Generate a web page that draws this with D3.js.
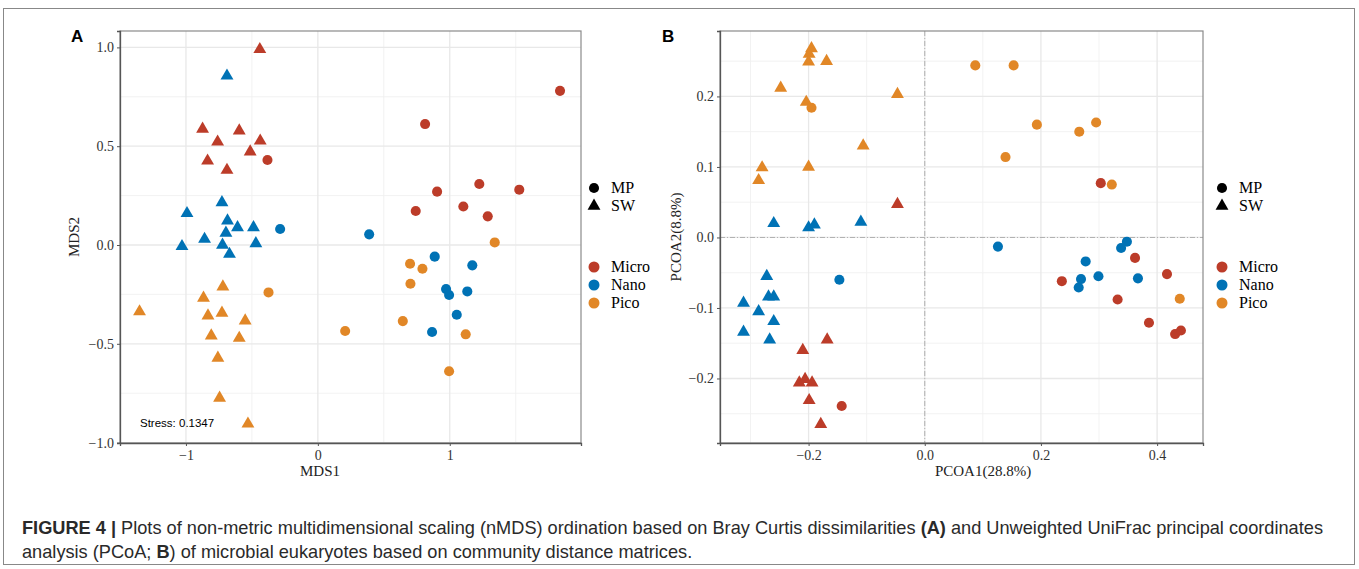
<!DOCTYPE html>
<html lang="en">
<head>
<meta charset="UTF-8" />
<title>Figure 4</title>
<style>
  body { margin: 0; background: #fff; }
  text { font-family: "Liberation Serif", "DejaVu Serif", serif; }
  .sans { font-family: "Liberation Sans", Arial, sans-serif; }
</style>
</head>
<body>
<svg width="1359" height="569" id="svg"></svg>
<script src="https://cdn.jsdelivr.net/npm/d3@7"></script>
<script>
// ---- data: panel A (nMDS, Bray Curtis) ----
const nmdsMicroSW = [[-0.44,0.99],[-0.874,0.587],[-0.596,0.578],[-0.437,0.527],[-0.76,0.522],[-0.513,0.472],[-0.836,0.426],[-0.689,0.379]]
const nmdsMicroMP = [[-0.382,0.43],[1.836,0.78],[0.813,0.612],[1.224,0.309],[1.527,0.28],[0.904,0.27],[0.742,0.172],[1.103,0.195],[1.288,0.145]]
const nmdsNanoSW = [[-0.689,0.856],[-0.727,0.215],[-0.992,0.16],[-0.685,0.123],[-0.609,0.089],[-0.488,0.089],[-0.697,0.061],[-0.859,0.03],[-1.03,-0.007],[-0.723,0.0],[-0.47,0.008],[-0.67,-0.046]]
const nmdsNanoMP = [[-0.286,0.081],[0.389,0.054],[0.886,-0.059],[1.171,-0.103],[0.972,-0.223],[0.995,-0.253],[1.133,-0.235],[1.053,-0.353],[0.866,-0.44]]
const nmdsPicoSW = [[-0.72,-0.211],[-0.867,-0.268],[-1.352,-0.337],[-0.833,-0.358],[-0.727,-0.344],[-0.551,-0.383],[-0.808,-0.459],[-0.596,-0.471],[-0.758,-0.572],[-0.745,-0.774],[-0.53,-0.905]]
const nmdsPicoMP = [[-0.374,-0.24],[0.207,-0.435],[1.341,0.013],[0.699,-0.095],[0.793,-0.12],[0.702,-0.196],[0.644,-0.385],[1.121,-0.452],[0.995,-0.639]]

// ---- data: panel B (PCoA, Unweighted UniFrac) ----
const pcoaMicroSW = [[-0.047,0.047],[-0.168,-0.145],[-0.21,-0.16],[-0.216,-0.206],[-0.206,-0.201],[-0.194,-0.206],[-0.199,-0.231],[-0.179,-0.265]]
const pcoaMicroMP = [[0.303,0.077],[0.362,-0.029],[0.417,-0.052],[0.236,-0.062],[0.332,-0.088],[0.386,-0.121],[0.431,-0.137],[0.441,-0.132],[-0.143,-0.239]]
const pcoaNanoSW = [[-0.26,0.02],[-0.2,0.014],[-0.19,0.018],[-0.11,0.022],[-0.272,-0.055],[-0.269,-0.084],[-0.26,-0.084],[-0.312,-0.093],[-0.286,-0.105],[-0.26,-0.119],[-0.312,-0.134],[-0.267,-0.145]]
const pcoaNanoMP = [[0.126,-0.013],[0.348,-0.006],[0.338,-0.015],[0.277,-0.034],[0.269,-0.059],[0.265,-0.071],[0.299,-0.055],[0.367,-0.058],[-0.147,-0.06]]
const pcoaPicoSW = [[-0.195,0.268],[-0.199,0.26],[-0.2,0.249],[-0.169,0.25],[-0.248,0.212],[-0.204,0.192],[-0.047,0.203],[-0.106,0.13],[-0.28,0.099],[-0.286,0.081],[-0.2,0.1]]
const pcoaPicoMP = [[-0.195,0.184],[0.087,0.244],[0.153,0.244],[0.193,0.16],[0.266,0.15],[0.295,0.163],[0.139,0.114],[0.322,0.075],[0.439,-0.087]]

const groups = ["Micro", "Nano", "Pico"]
const types = ["MP", "SW"]
const groupColors = ["#BC3C29", "#0072B5", "#E18727"]

const ticksAx = [-1, 0, 1]
const ticksAy = [-1, -0.5, 0, 0.5, 1]
const minorAx = [-0.5, 0.5, 1.5]
const minorAy = [-0.75, -0.25, 0.25, 0.75]
const ticksBx = [-0.2, 0, 0.2, 0.4]
const ticksBy = [-0.2, -0.1, 0, 0.1, 0.2]
const minorBx = [-0.3, -0.1, 0.1, 0.3]
const minorBy = [-0.25, -0.15, -0.05, 0.05, 0.15, 0.25]

const svg = d3.select("#svg")
const color = d3.scaleOrdinal(groups, groupColors)
const shape = d3.scaleOrdinal(types, [d3.symbolCircle, d3.symbolTriangle])
const symSize = { MP: 80, SW: 72 }
const fmtMinus = (f) => (v) => f(v).replace("-", "\u2212")

function tag(arr, group, type) {
  return arr.map(([x, y]) => ({ x, y, group, type }))
}

function panel(opt) {
  const x = d3.scaleLinear().domain(opt.xDomain).range([opt.left, opt.right])
  const y = d3.scaleLinear().domain(opt.yDomain).range([opt.bottom, opt.top])
  const g = svg.append("g")

  // grid
  g.selectAll(".minx").data(opt.minorX).join("line")
    .attr("x1", d => x(d)).attr("x2", d => x(d)).attr("y1", opt.top).attr("y2", opt.bottom)
    .attr("stroke", "#f1f1f1").attr("stroke-width", 0.9)
  g.selectAll(".miny").data(opt.minorY).join("line")
    .attr("y1", d => y(d)).attr("y2", d => y(d)).attr("x1", opt.left).attr("x2", opt.right)
    .attr("stroke", "#f1f1f1").attr("stroke-width", 0.9)
  g.selectAll(".majx").data(opt.ticksX).join("line")
    .attr("x1", d => x(d)).attr("x2", d => x(d)).attr("y1", opt.top).attr("y2", opt.bottom)
    .attr("stroke", "#e8e8e8").attr("stroke-width", 1.3)
  g.selectAll(".majy").data(opt.ticksY).join("line")
    .attr("y1", d => y(d)).attr("y2", d => y(d)).attr("x1", opt.left).attr("x2", opt.right)
    .attr("stroke", "#e8e8e8").attr("stroke-width", 1.3)

  if (opt.zeroLines) {
    g.append("line").attr("x1", x(0)).attr("x2", x(0)).attr("y1", opt.top).attr("y2", opt.bottom)
      .attr("stroke", "#b0b0b0").attr("stroke-width", 1).attr("stroke-dasharray", "5,2,1,2")
    g.append("line").attr("y1", y(0)).attr("y2", y(0)).attr("x1", opt.left).attr("x2", opt.right)
      .attr("stroke", "#b0b0b0").attr("stroke-width", 1).attr("stroke-dasharray", "5,2,1,2")
  }

  // points
  g.selectAll("path.pt").data(opt.points).join("path")
    .attr("class", "pt")
    .attr("transform", d => `translate(${x(d.x)},${y(d.y)})`)
    .attr("d", d => d3.symbol(shape(d.type), symSize[d.type])())
    .attr("fill", d => color(d.group))

  // border
  g.append("rect").attr("x", opt.left).attr("y", opt.top)
    .attr("width", opt.right - opt.left).attr("height", opt.bottom - opt.top)
    .attr("fill", "none").attr("stroke", "#8a8a8a").attr("stroke-width", 1.2)

  // axes
  const ax = g.append("g").attr("transform", `translate(0,${opt.bottom})`)
    .call(d3.axisBottom(x).tickValues(opt.ticksX).tickFormat(fmtMinus(opt.fmtX)).tickSize(3).tickPadding(4))
  const ay = g.append("g").attr("transform", `translate(${opt.left},0)`)
    .call(d3.axisLeft(y).tickValues(opt.ticksY).tickFormat(fmtMinus(opt.fmtY)).tickSize(3).tickPadding(3))
  for (const a of [ax, ay]) {
    a.select(".domain").attr("stroke", "#555").attr("stroke-width", 1.3)
    a.selectAll(".tick line").attr("stroke", "#555")
    a.selectAll(".tick text").attr("fill", "#333").style("font-size", "14px")
      .style("font-family", '"Liberation Serif", serif')
  }

  // titles
  g.append("text").attr("x", opt.xTitleX).attr("y", 476).attr("text-anchor", "middle")
    .style("font-size", "15px").attr("fill", "#222").text(opt.xTitle)
  g.append("text").attr("transform", `translate(${opt.yTitleX},${opt.yTitleY}) rotate(-90)`)
    .attr("text-anchor", "middle").style("font-size", "15px").attr("fill", "#222").text(opt.yTitle)
  g.append("text").attr("class", "sans").attr("x", opt.labelX).attr("y", 42)
    .style("font-size", "17px").style("font-weight", "bold").text(opt.label)

  // legend
  const lg = g.append("g").attr("transform", `translate(${opt.legendX},0)`)
  const shp = lg.selectAll("g.s").data(types).join("g")
    .attr("transform", (d, i) => `translate(0,${188 + i * 18})`)
  shp.append("path").attr("d", d => d3.symbol(shape(d), symSize[d])()).attr("fill", "#000")
  shp.append("text").attr("x", 17).attr("y", 5).style("font-size", "16px").text(d => d)
  const col = lg.selectAll("g.c").data(groups).join("g")
    .attr("transform", (d, i) => `translate(0,${267 + i * 18})`)
  col.append("circle").attr("r", 5.5).attr("fill", d => color(d))
  col.append("text").attr("x", 17).attr("y", 5).style("font-size", "16px").text(d => d)
  return g
}

const pointsA = [].concat(
  tag(nmdsMicroSW, "Micro", "SW"), tag(nmdsMicroMP, "Micro", "MP"),
  tag(nmdsNanoSW, "Nano", "SW"), tag(nmdsNanoMP, "Nano", "MP"),
  tag(nmdsPicoSW, "Pico", "SW"), tag(nmdsPicoMP, "Pico", "MP"))
const pointsB = [].concat(
  tag(pcoaMicroSW, "Micro", "SW"), tag(pcoaMicroMP, "Micro", "MP"),
  tag(pcoaNanoSW, "Nano", "SW"), tag(pcoaNanoMP, "Nano", "MP"),
  tag(pcoaPicoSW, "Pico", "SW"), tag(pcoaPicoMP, "Pico", "MP"))

// outer frame
svg.append("rect").attr("x", 3.5).attr("y", 8.5).attr("width", 1351).attr("height", 556)
  .attr("fill", "none").attr("stroke", "#888").attr("stroke-width", 1)

const gA = panel({
  left: 120, right: 581, top: 31, bottom: 443,
  xDomain: [-1.5, 1.995], yDomain: [-1.002, 1.083],
  ticksX: ticksAx, ticksY: ticksAy, minorX: minorAx, minorY: minorAy,
  fmtX: d3.format("d"), fmtY: d3.format(".1f"),
  points: pointsA, xTitle: "MDS1", yTitle: "MDS2",
  xTitleX: 320, yTitleX: 79, yTitleY: 237, label: "A", labelX: 71, legendX: 594
})
gA.append("text").attr("class", "sans").attr("x", 140).attr("y", 427)
  .style("font-size", "11.5px").text("Stress: 0.1347")

panel({
  left: 720, right: 1203, top: 31, bottom: 443,
  xDomain: [-0.3525, 0.479], yDomain: [-0.2915, 0.2928],
  ticksX: ticksBx, ticksY: ticksBy, minorX: minorBx, minorY: minorBy,
  fmtX: d3.format(".1f"), fmtY: d3.format(".1f"), zeroLines: true,
  points: pointsB, xTitle: "PCOA1(28.8%)", yTitle: "PCOA2(8.8%)",
  xTitleX: 983, yTitleX: 681, yTitleY: 237, label: "B", labelX: 662, legendX: 1222
})

// caption
const cap = svg.append("g").attr("class", "sans").style("font-size", "18.2px").attr("fill", "#2a2a2a")
const l1 = cap.append("text").attr("class", "sans").attr("x", 22).attr("y", 534)
l1.append("tspan").style("font-weight", "bold").text("FIGURE 4 | ")
l1.append("tspan").text("Plots of non-metric multidimensional scaling (nMDS) ordination based on Bray Curtis dissimilarities ")
l1.append("tspan").style("font-weight", "bold").text("(A)")
l1.append("tspan").text(" and Unweighted UniFrac principal coordinates")
const l2 = cap.append("text").attr("class", "sans").attr("x", 22).attr("y", 558)
l2.append("tspan").text("analysis (PCoA; ")
l2.append("tspan").style("font-weight", "bold").text("B")
l2.append("tspan").text(") of microbial eukaryotes based on community distance matrices.")
</script>
</body>
</html>
